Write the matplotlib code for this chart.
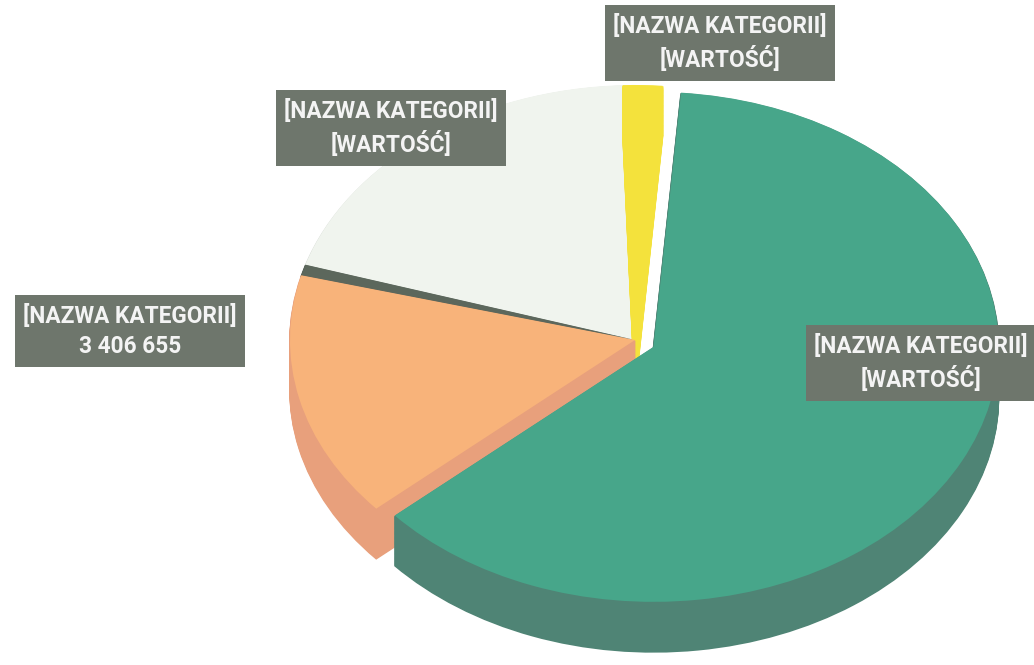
import matplotlib
matplotlib.use("Agg")
import matplotlib.pyplot as plt

# ---- data (clockwise from the top) ----
categories = ["Kategoria A", "Kategoria B", "Kategoria C", "Kategoria D", "Kategoria E"]
values = [400000, 13600000, 3406655, 150000, 4300000]
label_texts = [
    "[NAZWA KATEGORII]\n[WARTOŚĆ]",
    "[NAZWA KATEGORII]\n[WARTOŚĆ]",
    "[NAZWA KATEGORII]\n3 406 655",
    None,
    "[NAZWA KATEGORII]\n[WARTOŚĆ]",
]

# ---- styling ----
top_colors = ["#F4E23C", "#47A68A", "#F8B37A", "#5C675C", "#F0F4EE"]
side_colors = ["#F4E23C", "#4F8475", "#E8A07C", "#4A544A", "#D5DAD3"]
explode = [0.0, 0.06, 0, 0, 0]
draw_rank = [2, 4, 3, 1, 0]          # back-to-front painting order
label_px = [(720, 43), (921, 363), (130, 331), None, (391, 128)]

W, H = 1034, 665
cx, cy = 635, 340        # pie centre in pixels (from top-left)
rx, ry = 345, 255        # ellipse radii in pixels
depth_px = 50

fig = plt.figure(figsize=(W / 100, H / 100), dpi=100)
ax = fig.add_axes([0, 0, 1, 1])

depth = depth_px / ry
n_layers = 40
for k in range(n_layers + 1):
    z = depth * (1 - k / n_layers)
    is_top = k == n_layers
    cols = top_colors if is_top else side_colors
    wedges, _ = ax.pie(values, colors=cols, startangle=92, counterclock=False,
                       explode=explode, center=(0, -z), radius=1,
                       wedgeprops=dict(linewidth=0 if is_top else 1.2))
    for i, w in enumerate(wedges):
        if not is_top:
            w.set_edgecolor(side_colors[i])
        w.set_zorder(draw_rank[i] * 100 + k)

ax.set_aspect("auto")
ax.set_xlim(-cx / rx, (W - cx) / rx)
ax.set_ylim(-(H - cy) / ry, cy / ry)
ax.axis("off")

for txt, pos in zip(label_texts, label_px):
    if txt is None:
        continue
    fig.text(pos[0] / W, 1 - pos[1] / H, txt, ha="center", va="center",
             fontsize=16.3, fontfamily="Roboto", fontweight="bold", color="#F4F4F4",
             linespacing=1.4, zorder=1000,
             bbox=dict(boxstyle="square,pad=0.38", facecolor="#6E766C", edgecolor="none"))

fig.savefig("out.png", dpi=100)
